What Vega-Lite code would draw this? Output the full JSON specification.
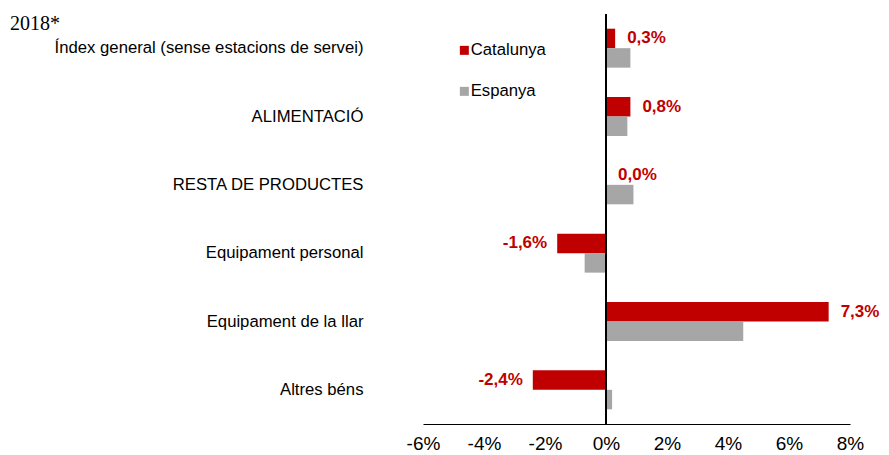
{
  "$schema": "https://vega.github.io/schema/vega-lite/v6.json",
  "autosize": {"type": "none"},
  "width": 427,
  "height": 410,
  "padding": {"left": 423, "top": 14, "right": 39, "bottom": 31},
  "background": "white",
  "title": {
    "text": "2018*",
    "anchor": "start",
    "frame": "group",
    "orient": "top",
    "offset": 0,
    "dx": -413,
    "dy": 36,
    "baseline": "alphabetic",
    "font": "Liberation Serif",
    "fontSize": 20,
    "fontWeight": "normal",
    "color": "black"
  },
  "config": {
    "locale": {"number": {"decimal": ",", "thousands": ".", "grouping": [3], "currency": ["", " €"], "minus": "-"}},
    "view": {"stroke": null},
    "font": "Liberation Sans"
  },
  "data": {
    "values": [
      {"cat": "Índex general (sense estacions de servei)", "serie": "Catalunya", "v": 0.003},
      {"cat": "Índex general (sense estacions de servei)", "serie": "Espanya", "v": 0.008},
      {"cat": "ALIMENTACIÓ", "serie": "Catalunya", "v": 0.008},
      {"cat": "ALIMENTACIÓ", "serie": "Espanya", "v": 0.007},
      {"cat": "RESTA DE PRODUCTES", "serie": "Catalunya", "v": 0.0},
      {"cat": "RESTA DE PRODUCTES", "serie": "Espanya", "v": 0.009},
      {"cat": "Equipament personal", "serie": "Catalunya", "v": -0.016},
      {"cat": "Equipament personal", "serie": "Espanya", "v": -0.007},
      {"cat": "Equipament de la llar", "serie": "Catalunya", "v": 0.073},
      {"cat": "Equipament de la llar", "serie": "Espanya", "v": 0.045},
      {"cat": "Altres béns", "serie": "Catalunya", "v": -0.024},
      {"cat": "Altres béns", "serie": "Espanya", "v": 0.002}
    ]
  },
  "encoding": {
    "y": {
      "field": "cat",
      "type": "nominal",
      "sort": null,
      "title": null,
      "scale": {"paddingInner": 0.43, "paddingOuter": 0.215},
      "axis": {
        "domain": false,
        "ticks": false,
        "labelPadding": 60,
        "labelFontSize": 16.7,
        "labelColor": "black",
        "labelFont": "Liberation Sans",
        "labelLimit": 400
      }
    },
    "yOffset": {"field": "serie", "type": "nominal", "sort": ["Catalunya", "Espanya"]},
    "x": {
      "field": "v",
      "type": "quantitative",
      "title": null,
      "scale": {"domain": [-0.06, 0.08], "nice": false},
      "axis": {
        "format": ".0%",
        "values": [-0.06, -0.04, -0.02, 0, 0.02, 0.04, 0.06, 0.08],
        "grid": false,
        "ticks": false,
        "domainColor": "black",
        "domainWidth": 1,
        "labelFontSize": 19,
        "labelColor": "black",
        "labelPadding": 10,
        "labelFont": "Liberation Sans",
        "labelFlush": false
      }
    }
  },
  "layer": [
    {
      "mark": {"type": "bar"},
      "encoding": {
        "color": {
          "field": "serie",
          "type": "nominal",
          "sort": ["Catalunya", "Espanya"],
          "scale": {"domain": ["Catalunya", "Espanya"], "range": ["#C00000", "#A6A6A6"]},
          "legend": {
            "title": null,
            "orient": "none",
            "legendX": 33,
            "legendY": 28,
            "symbolType": "square",
            "symbolSize": 81,
            "symbolStrokeWidth": 0,
            "labelFontSize": 16.7,
            "labelColor": "black",
            "labelFont": "Liberation Sans",
            "labelOffset": -2,
            "rowPadding": 23,
            "padding": 0
          }
        }
      }
    },
    {
      "mark": {"type": "rule", "color": "black", "strokeWidth": 1},
      "encoding": {"x": {"datum": 0}, "y": null, "yOffset": null}
    },
    {
      "transform": [{"filter": "datum.serie == 'Catalunya' && datum.v >= 0"}],
      "mark": {"type": "text", "align": "left", "dx": 12, "fontWeight": "bold", "fontSize": 17, "color": "#C00000", "font": "Liberation Sans"},
      "encoding": {"text": {"field": "v", "type": "quantitative", "format": ".1%"}}
    },
    {
      "transform": [{"filter": "datum.serie == 'Catalunya' && datum.v < 0"}],
      "mark": {"type": "text", "align": "right", "dx": -10, "fontWeight": "bold", "fontSize": 17, "color": "#C00000", "font": "Liberation Sans"},
      "encoding": {"text": {"field": "v", "type": "quantitative", "format": ".1%"}}
    }
  ]
}
